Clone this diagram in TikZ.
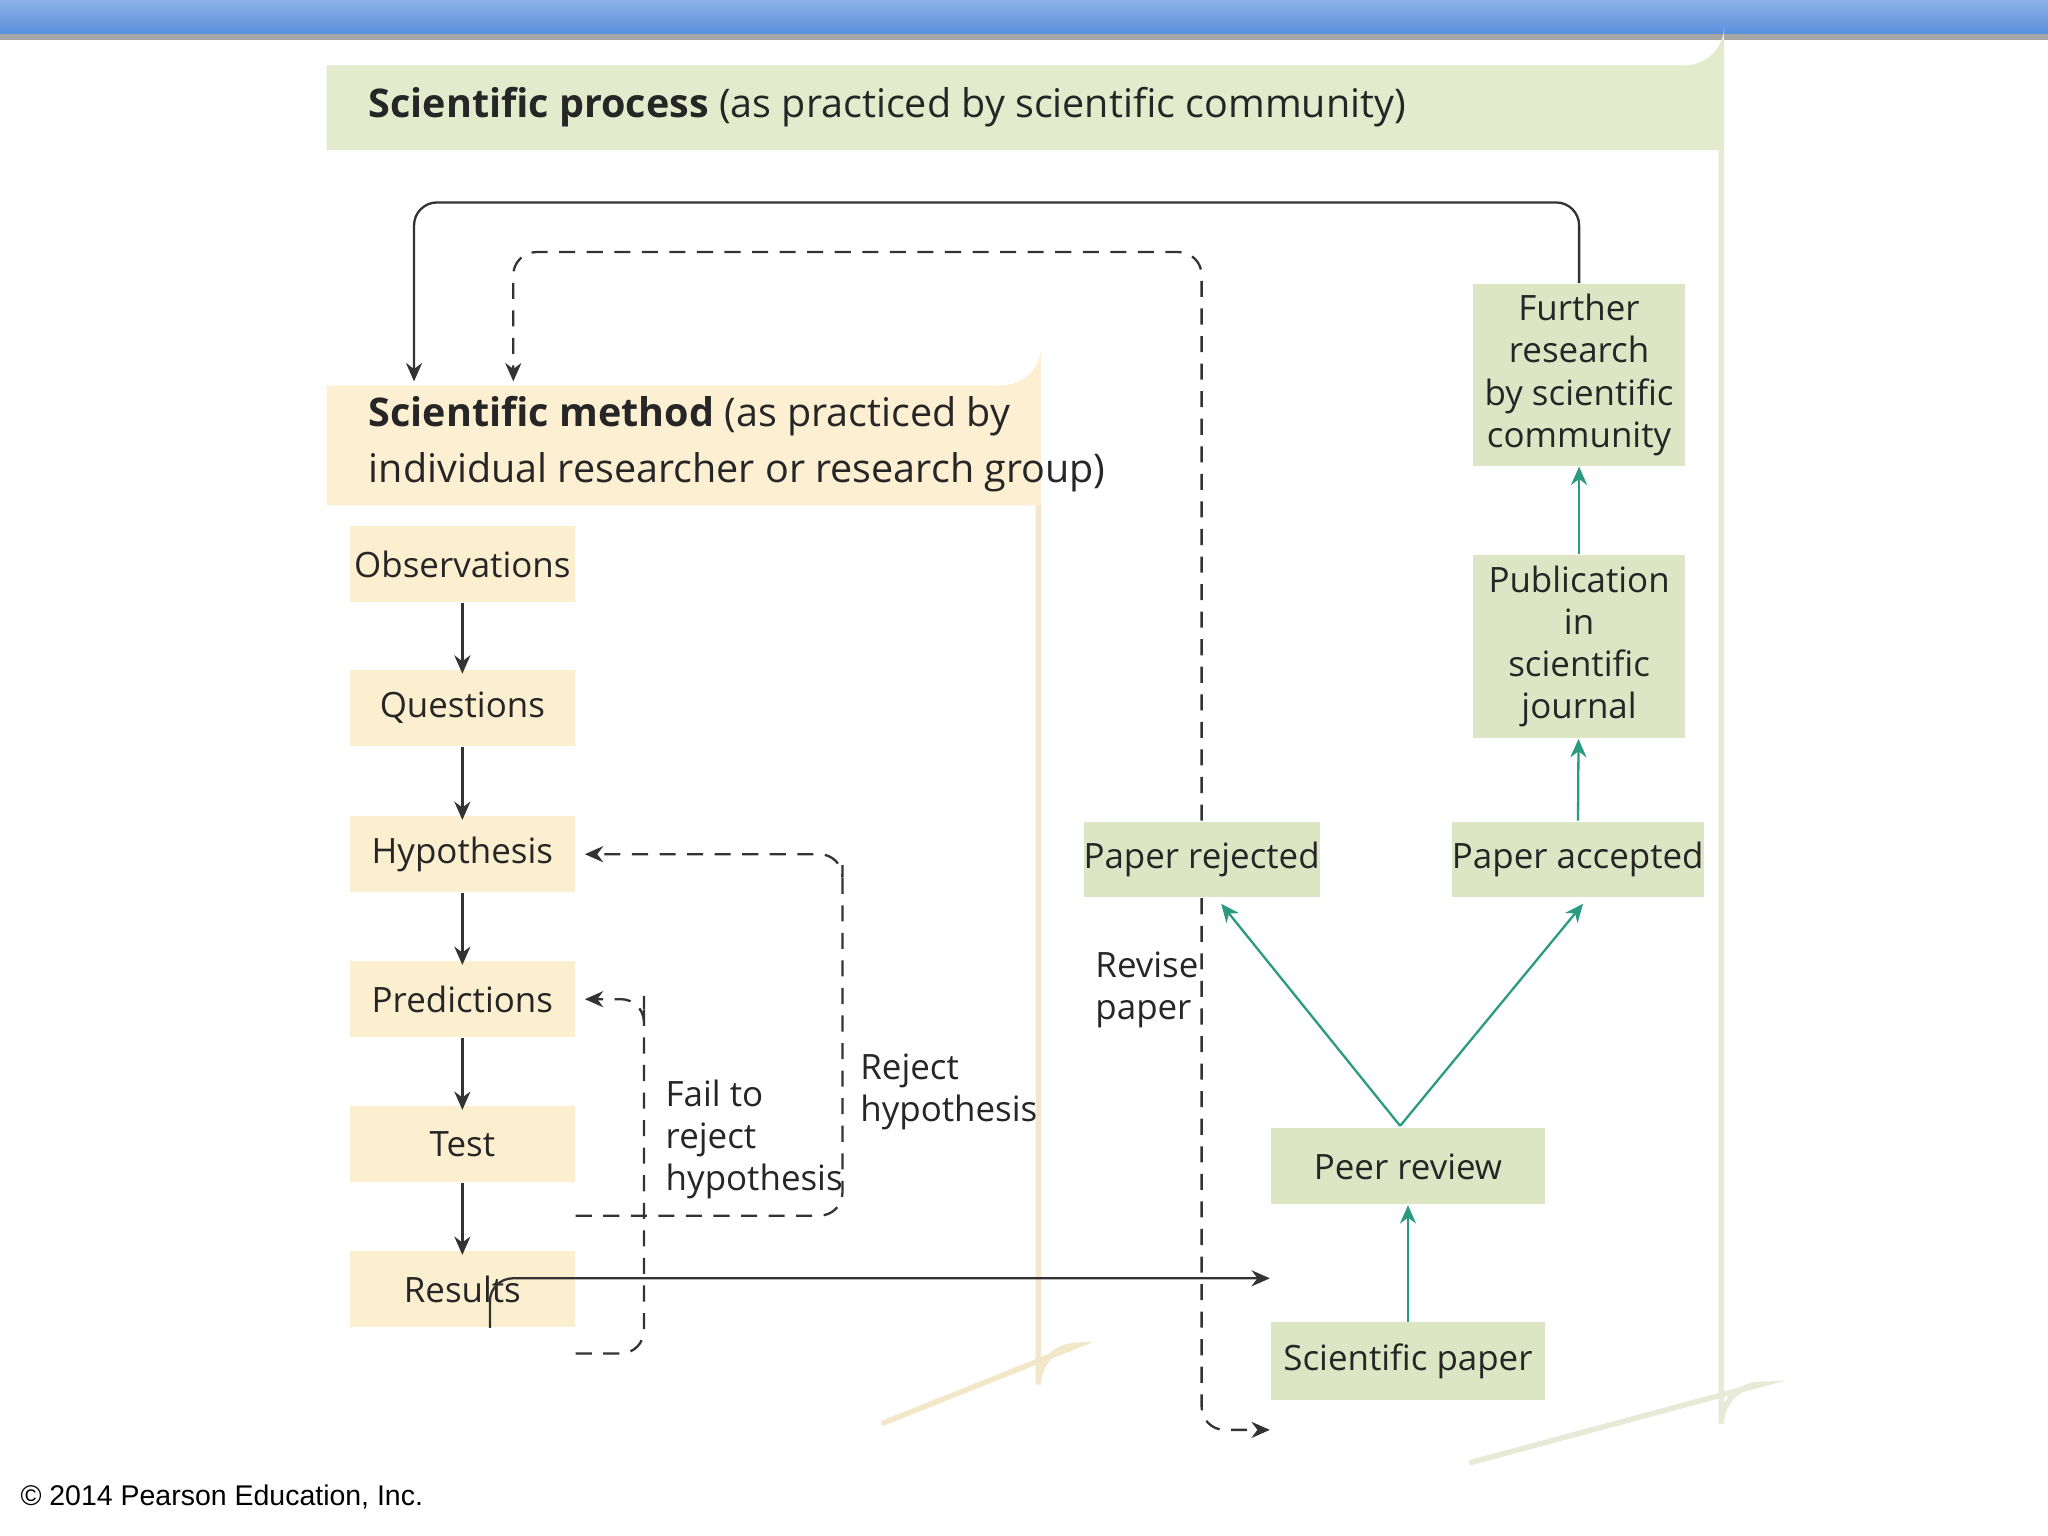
\documentclass[tikz,border=0pt]{standalone}
\usepackage{fontspec}
\setmainfont{Open Sans}
\newfontfamily\arialf{Liberation Sans}
\usetikzlibrary{arrows.meta,calc}
\definecolor{hdrgreen}{HTML}{E4EBCD}
\definecolor{boxgreen}{HTML}{DCE6C4}
\definecolor{hdryel}{HTML}{FDF0D2}
\definecolor{boxyel}{HTML}{FCEFCF}
\definecolor{teal}{HTML}{2A9A80}
\definecolor{panel}{HTML}{E8EAD8}
\definecolor{barblue}{HTML}{5B8FDD}
\begin{document}
\begin{tikzpicture}[x=0.01cm,y=-0.01cm,
  txt/.style={font=\fontsize{7.6}{9.2}\selectfont,text=black!85},
  ybox/.style={txt,fill=boxyel,minimum width=172\pgflinewidth*0+1.72cm,minimum height=0.58cm,inner sep=0},
  gbox/.style={txt,fill=boxgreen,inner sep=0,align=center},
  con/.style={draw=black!80,line width=0.5pt,-{Stealth[length=4pt,width=3.5pt]},rounded corners=5pt},
  dcon/.style={con,dash pattern=on 3.5pt off 2.5pt},
  tcon/.style={draw=teal,line width=0.5pt,-{Stealth[length=4pt,width=3.5pt]}}]
\useasboundingbox (0,0) rectangle (1568,1176);
\fill[white] (0,0) rectangle (1568,1176);
% top bar
\shade[top color=barblue!70,bottom color=barblue] (0,0) rectangle (1568,26);
\fill[black!35] (0,26) rectangle (1568,31);
% outer panel
\fill[hdrgreen] (250,50) -- (1290,50) arc[start angle=90,end angle=0,radius=30] -- (1320,115) -- (250,115) -- cycle;
\draw[panel,line width=1.2pt] (1318,115) -- (1318,1090) arc[start angle=0,end angle=90,radius=-30] -- (1125,1120);
\node[anchor=west,txt,font=\fontsize{8.6}{10}\selectfont] (sp) at (270,82) {\textbf{Scientific process} (as practiced by scientific community)};
% inner panel
\fill[hdryel] (250,295) -- (767,295) arc[start angle=90,end angle=0,radius=30] -- (797,387) -- (250,387) -- cycle;
\draw[hdryel!80!black!20!hdryel,line width=1.2pt] (795,387) -- (795,1060) arc[start angle=0,end angle=90,radius=-30] -- (675,1090);
\node[anchor=west,txt,font=\fontsize{8.6}{12}\selectfont,align=left] (sm) at (270,340) {\textbf{Scientific method} (as practiced by\\individual researcher or research group)};
% method boxes
\node[ybox] (obs) at (354,432) {Observations};
\node[ybox] (que) at (354,542) {Questions};
\node[ybox] (hyp) at (354,654) {Hypothesis};
\node[ybox] (pre) at (354,765) {Predictions};
\node[ybox] (tes) at (354,876) {Test};
\node[ybox] (res) at (354,987) {Results};
\foreach \a/\b in {obs/que,que/hyp,hyp/pre,pre/tes,tes/res}
  \draw[con] (\a) -- ([yshift=-1pt]\b.north);
% community boxes
\node[gbox,minimum width=1.78cm,minimum height=0.58cm] (rej) at (920,658) {Paper rejected};
\node[gbox,minimum width=1.91cm,minimum height=0.58cm] (acc) at (1208,658) {Paper accepted};
\node[gbox,minimum width=1.62cm,minimum height=1.39cm,font=\fontsize{7.6}{9.2}\selectfont] (fur) at (1209,287) {Further\\research\\by scientific\\community};
\node[gbox,minimum width=1.62cm,minimum height=1.40cm,font=\fontsize{7.6}{9.2}\selectfont] (pub) at (1209,495) {Publication\\in\\scientific\\journal};
\node[gbox,minimum width=2.10cm,minimum height=0.58cm] (peer) at (1078,893) {Peer review};
\node[gbox,minimum width=2.10cm,minimum height=0.59cm] (pap) at (1078,1042) {Scientific paper};
% connectors
\coordinate (m1) at (317,292);
\coordinate (m2) at (393,292);
\draw[con] (fur.north) |- (760,155) -| (m1);
\draw[dcon] (rej.north) |- (650,193) -| (m2);
\draw[dcon] (rej.south) |- ([yshift=-15pt]pap.west);
\draw[con] ([xshift=6pt]res.south) |- ([yshift=18pt]pap.west);
\draw[dcon] ([yshift=-14pt]res.east) -| (493,780) |- ([xshift=2pt]pre.east);
\draw[dcon] ([yshift=16pt]res.east) -| (645,680) |- ([xshift=2pt]hyp.east);
\draw[tcon] (pap) -- (peer);
\draw[tcon] (1072,862) -- (935,692);
\draw[tcon] (1072,862) -- (1212,692);
\draw[tcon] (acc) -- (pub);
\draw[tcon] (pub) -- (fur);
% labels
\node[txt,anchor=north west,align=left,inner sep=0] (l1) at (838,728) {Revise\\paper};
\node[txt,anchor=north west,align=left,inner sep=0] (l2) at (509,826) {Fail to\\reject\\hypothesis};
\node[txt,anchor=north west,align=left,inner sep=0] (l3) at (658,806) {Reject\\hypothesis};
\node[anchor=west,inner sep=0,font=\arialf\fontsize{6.2}{7}\selectfont] (cp) at (15,1146) {© 2014 Pearson Education, Inc.};
\end{tikzpicture}
\end{document}
